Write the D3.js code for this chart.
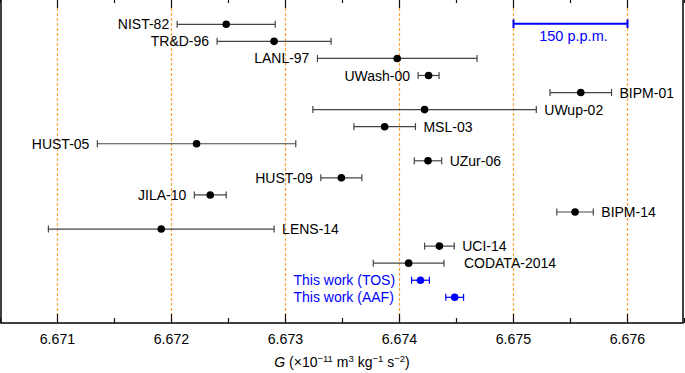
<!DOCTYPE html>
<html>
<head>
<meta charset="utf-8">
<script src="https://cdn.jsdelivr.net/npm/d3@7"></script>
<style>
  body { margin: 0; background: #fff; }
  svg { display: block; font-family: "Liberation Sans", Arial, sans-serif; }
</style>
</head>
<body>
<div id="chart"></div>
<script>
// Medidas de G (x10^-11 m3 kg-1 s-2)
const names = ["NIST-82", "TR&D-96", "LANL-97", "UWash-00", "BIPM-01", "UWup-02", "MSL-03", "HUST-05",
  "UZur-06", "HUST-09", "JILA-10", "BIPM-14", "LENS-14", "UCI-14", "CODATA-2014", "This work (TOS)", "This work (AAF)"];
const values = [6.67248, 6.6729, 6.67398, 6.674255, 6.67559, 6.67422, 6.67387, 6.67222,
  6.67425, 6.67349, 6.67234, 6.67554, 6.67191, 6.67435, 6.67408, 6.674184, 6.674484];
const errors = [0.00043, 0.0005, 0.0007, 0.000092, 0.00027, 0.00098, 0.00027, 0.00087,
  0.00012, 0.00018, 0.00014, 0.00016, 0.00099, 0.00013, 0.00031, 0.000078, 0.000078];
const sides = ["left", "left", "left", "left", "right", "right", "right", "left",
  "right", "left", "left", "right", "right", "right", "right", "blue", "blue"];
const thisWork = [false, false, false, false, false, false, false, false,
  false, false, false, false, false, false, false, true, true];
const tickValues = [6.671, 6.672, 6.673, 6.674, 6.675, 6.676];
const minorTicks = [6.6705, 6.6715, 6.6725, 6.6735, 6.6745, 6.6755, 6.6765];

const width = 685, height = 373;
const data = names.map((n, i) => ({ name: n, g: values[i], err: errors[i], side: sides[i], blue: thisWork[i] }));

const svg = d3.select("#chart").append("svg")
  .attr("width", width)
  .attr("height", height);

const x = d3.scaleLinear().domain([6.6705, 6.6765]).range([0.5, 684.5]);
const y = d3.scalePoint().domain(names).range([24.3, 297.3]);
const yTop = -2, yBottom = 323, xLeft = 1, xRight = 683;

// líneas discontinuas naranjas
svg.append("g")
  .selectAll("line")
  .data(tickValues)
  .join("line")
  .attr("x1", d => x(d)).attr("x2", d => x(d))
  .attr("y1", yTop).attr("y2", yBottom)
  .style("stroke", "#ffa33a")
  .style("stroke-width", "1.2px")
  .style("stroke-dasharray", "3,2");

// marco
svg.append("rect")
  .attr("x", xLeft).attr("y", yTop)
  .attr("width", xRight - xLeft).attr("height", yBottom - yTop)
  .attr("fill", "none")
  .attr("stroke", "#111")
  .attr("stroke-width", 1.6);

// ticks arriba y abajo
const ticks = svg.append("g").attr("stroke", "#111").attr("stroke-width", 1.2);
tickValues.forEach(t => {
  ticks.append("line").attr("x1", x(t)).attr("x2", x(t)).attr("y1", yBottom).attr("y2", yBottom - 9);
  ticks.append("line").attr("x1", x(t)).attr("x2", x(t)).attr("y1", yTop).attr("y2", yTop + 10);
});
minorTicks.forEach(t => {
  ticks.append("line").attr("x1", x(t)).attr("x2", x(t)).attr("y1", yBottom).attr("y2", yBottom - 5);
  ticks.append("line").attr("x1", x(t)).attr("x2", x(t)).attr("y1", yTop).attr("y2", yTop + 5);
});

// etiquetas del eje
svg.append("g")
  .selectAll("text")
  .data(tickValues)
  .join("text")
  .attr("x", d => x(d))
  .attr("y", 344)
  .attr("text-anchor", "middle")
  .style("font-size", "14.2px")
  .attr("fill", "#000")
  .text(d => d3.format(".3f")(d));

// título del eje
const title = svg.append("text")
  .attr("x", (xLeft + xRight) / 2)
  .attr("y", 367)
  .attr("text-anchor", "middle")
  .style("font-size", "14px")
  .attr("fill", "#000");
title.append("tspan").style("font-style", "italic").text("G");
title.append("tspan").text(" (×10");
title.append("tspan").attr("dy", -5).style("font-size", "9.5px").text("−11");
title.append("tspan").attr("dy", 5).text(" m");
title.append("tspan").attr("dy", -5).style("font-size", "9.5px").text("3");
title.append("tspan").attr("dy", 5).text(" kg");
title.append("tspan").attr("dy", -5).style("font-size", "9.5px").text("−1");
title.append("tspan").attr("dy", 5).text(" s");
title.append("tspan").attr("dy", -5).style("font-size", "9.5px").text("−2");
title.append("tspan").attr("dy", 5).text(")");

// barras de error
const rows = svg.append("g")
  .selectAll("g")
  .data(data)
  .join("g")
  .attr("transform", d => `translate(0,${y(d.name)})`);

rows.append("line")
  .attr("x1", d => x(d.g - d.err)).attr("x2", d => x(d.g + d.err))
  .attr("stroke", d => d.blue ? "#0000ff" : "#444")
  .attr("stroke-width", 1.2);
rows.append("line")
  .attr("x1", d => x(d.g - d.err)).attr("x2", d => x(d.g - d.err))
  .attr("y1", -3.5).attr("y2", 3.5)
  .attr("stroke", d => d.blue ? "#0000ff" : "#444")
  .attr("stroke-width", 1.2);
rows.append("line")
  .attr("x1", d => x(d.g + d.err)).attr("x2", d => x(d.g + d.err))
  .attr("y1", -3.5).attr("y2", 3.5)
  .attr("stroke", d => d.blue ? "#0000ff" : "#444")
  .attr("stroke-width", 1.2);
rows.append("circle")
  .attr("cx", d => x(d.g))
  .attr("r", 3.8)
  .attr("fill", d => d.blue ? "#0000ff" : "#000");

const gapFor = { "CODATA-2014": 20 };
rows.append("text")
  .attr("x", d => {
    if (d.side === "blue") return x(6.67307);
    const gap = gapFor[d.name] || 8;
    return d.side === "left" ? x(d.g - d.err) - gap : x(d.g + d.err) + gap;
  })
  .attr("dy", "0.36em")
  .attr("text-anchor", d => d.side === "left" ? "end" : "start")
  .attr("fill", d => d.blue ? "#0000ff" : "#000")
  .style("font-size", "14px")
  .text(d => d.name);

// barra de escala 150 p.p.m.
const scaleBar = svg.append("g").attr("stroke", "#0000ff").attr("stroke-width", 2);
scaleBar.append("line").attr("x1", x(6.675)).attr("x2", x(6.676)).attr("y1", 23.7).attr("y2", 23.7);
scaleBar.append("line").attr("x1", x(6.675)).attr("x2", x(6.675)).attr("y1", 19.5).attr("y2", 28);
scaleBar.append("line").attr("x1", x(6.676)).attr("x2", x(6.676)).attr("y1", 19.5).attr("y2", 28);
svg.append("text")
  .attr("x", (x(6.675) + x(6.676)) / 2 + 3)
  .attr("y", 41)
  .attr("text-anchor", "middle")
  .attr("fill", "#0000ff")
  .style("font-size", "14.5px")
  .text("150 p.p.m.");
</script>
</body>
</html>
